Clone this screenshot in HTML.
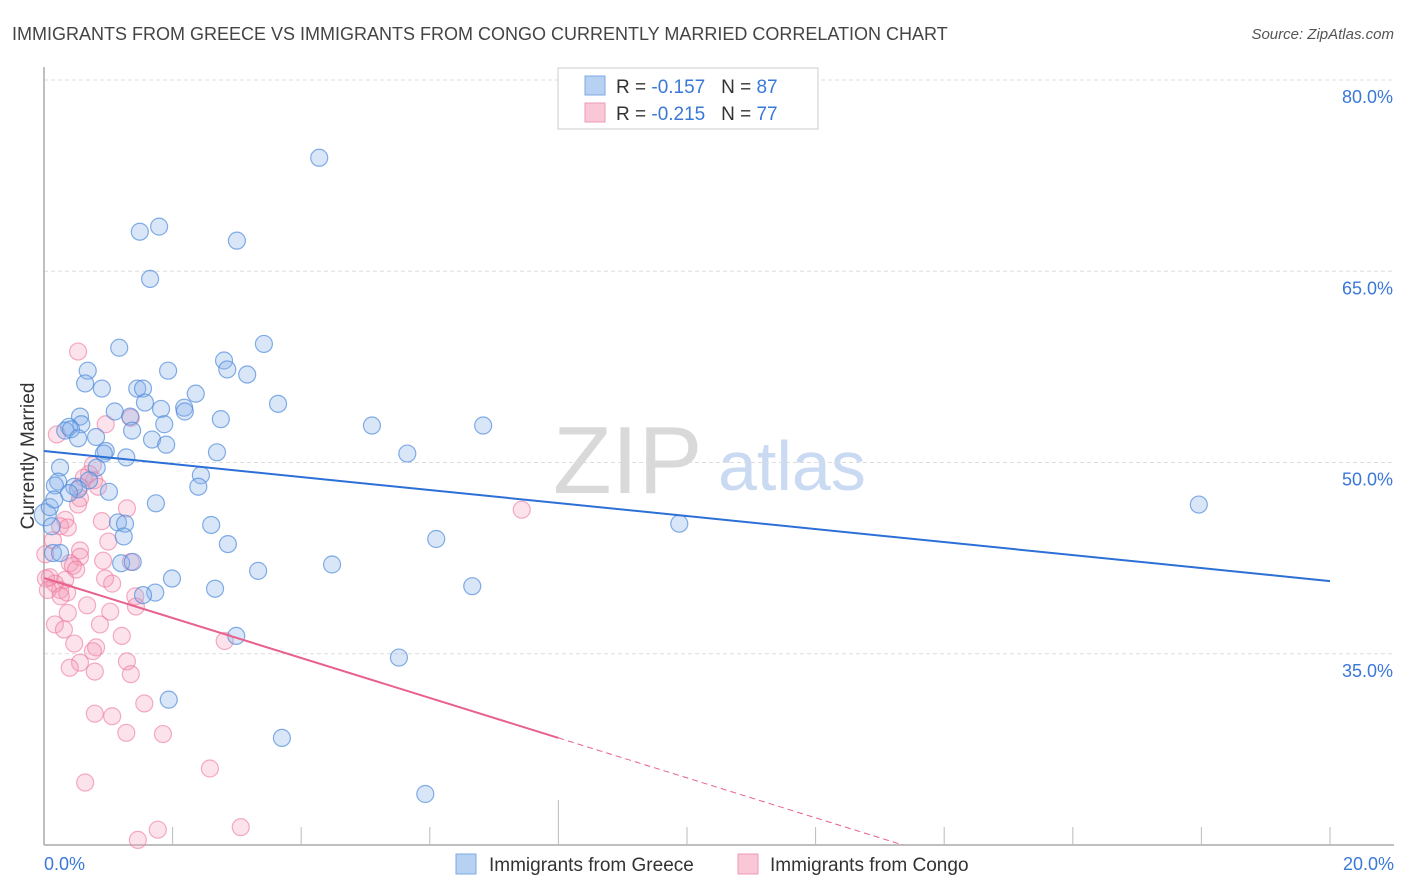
<!DOCTYPE html>
<html><head><meta charset="utf-8">
<style>
body{margin:0;background:#fff;font-family:"Liberation Sans",sans-serif;}
#wrap{position:relative;width:1406px;height:892px;overflow:hidden;}
svg text{font-family:"Liberation Sans",sans-serif;}
</style></head>
<body>
<div id="wrap">
<svg id="chart" width="1406" height="892">
  <text x="12" y="40" font-size="18" fill="#444">IMMIGRANTS FROM GREECE VS IMMIGRANTS FROM CONGO CURRENTLY MARRIED CORRELATION CHART</text>
  <text x="1394" y="39" font-size="15" fill="#555" font-style="italic" text-anchor="end">Source: ZipAtlas.com</text>
  <text x="0" y="0" font-size="19" fill="#333" transform="translate(34,456) rotate(-90)" text-anchor="middle">Currently Married</text>
  <g>
    <text x="553" y="493" font-size="96" fill="#d9d9d9" font-family="Liberation Serif">ZIP</text>
    <text x="718" y="490" font-size="70" fill="#c9daf2">atlas</text>
  </g>
  <g id="grid"></g>
  <g id="axes"></g>
  <g id="pts"></g>
  <g id="lines"></g>
  <g>
    <rect x="558" y="68" width="260" height="61" fill="#fff" stroke="#ccc"/>
    <rect x="585" y="76" width="20" height="19" fill="#b7d1f3" stroke="#7ea9e4"/>
    <rect x="585" y="103" width="20" height="19" fill="#f9c7d6" stroke="#ef9ab5"/>
    <text x="616" y="93" font-size="19" fill="#333">R = <tspan fill="#3a78d8">-0.157</tspan>&#160;&#160;&#160;N = <tspan fill="#3a78d8">87</tspan></text>
    <text x="616" y="120" font-size="19" fill="#333">R = <tspan fill="#3a78d8">-0.215</tspan>&#160;&#160;&#160;N = <tspan fill="#3a78d8">77</tspan></text>
  </g>
  <g>
    <rect x="456" y="854" width="20" height="20" fill="#b7d1f3" stroke="#7ea9e4"/>
    <text x="489" y="871" font-size="19" fill="#333">Immigrants from Greece</text>
    <rect x="738" y="854" width="20" height="20" fill="#f9c7d6" stroke="#ef9ab5"/>
    <text x="770" y="871" font-size="19" fill="#333">Immigrants from Congo</text>
  </g>
</svg>
</div>
<script>
const greeceX=[4.28,1.49,1.79,3.00,1.65,1.17,3.42,2.80,0.68,1.93,2.85,3.16,0.64,0.90,1.45,1.54,2.36,3.64,1.57,1.10,1.82,2.18,2.19,1.34,0.56,0.58,2.75,1.87,0.39,0.33,0.42,1.37,5.10,6.83,0.53,0.81,1.68,1.90,0.96,0.93,2.69,5.65,1.28,0.82,0.25,2.44,0.22,0.70,0.47,0.53,0.17,1.01,2.40,0.39,1.74,17.96,9.88,1.15,1.26,2.60,0.02,0.12,1.24,2.86,6.10,0.14,0.25,1.20,1.38,3.33,4.48,1.99,1.73,1.54,2.66,6.66,2.99,5.52,1.94,3.70,5.93,0.09,0.16];
const greeceY=[73.9,68.1,68.5,67.4,64.4,59.0,59.3,58.0,57.2,57.2,57.3,56.9,56.2,55.8,55.8,55.8,55.4,54.6,54.7,54.0,54.2,54.3,54.0,53.6,53.6,53.0,53.4,53.0,52.8,52.5,52.6,52.5,52.9,52.9,51.9,52.0,51.8,51.4,50.9,50.7,50.8,50.7,50.4,49.6,49.6,49.0,48.5,48.6,48.1,47.9,48.2,47.7,48.1,47.6,46.8,46.7,45.2,45.3,45.2,45.1,45.9,45.0,44.2,43.6,44.0,42.9,42.9,42.1,42.2,41.5,42.0,40.9,39.8,39.6,40.1,40.3,36.4,34.7,31.4,28.4,24.0,46.5,47.1];
const congoX=[0.53,1.35,0.96,0.20,0.76,0.70,0.78,0.62,0.56,0.84,0.56,0.53,0.33,0.25,1.29,7.43,0.90,0.37,1.00,0.14,0.56,0.56,0.02,0.40,0.45,0.92,0.50,1.35,0.09,0.33,0.17,0.95,1.06,0.03,0.25,0.06,0.36,0.26,1.42,0.67,1.43,1.03,0.37,0.17,0.31,0.87,1.21,0.81,2.81,0.47,0.76,1.29,0.56,0.40,0.79,1.35,1.56,0.79,1.06,1.85,1.28,2.58,0.64,3.06,1.77,1.46];
const congoY=[58.7,53.5,53.0,52.2,49.8,49.1,48.6,48.8,48.1,48.1,47.2,46.7,45.5,45.0,46.4,46.3,45.4,44.9,43.8,43.9,43.1,42.6,42.8,42.1,41.9,42.3,41.6,42.2,41.0,40.8,40.5,40.9,40.5,40.9,40.0,40.0,39.8,39.5,39.5,38.8,38.7,38.3,38.2,37.3,36.9,37.3,36.4,35.5,36.0,35.8,35.2,34.4,34.3,33.9,33.6,33.4,31.1,30.3,30.1,28.7,28.8,26.0,24.9,21.4,21.2,20.4];
const greeceTrend=[50.9,40.7];
const congoTrend=[40.94,28.4];
const yTicks=[80,65,50,35];
const xTickLabels=["0.0%","20.0%"];

const NS="http://www.w3.org/2000/svg";
const X0=44,X1=1330,Y80=80,PX_PER=12.75;
const xs=v=>X0+(v/20)*(X1-X0);
const ys=v=>Y80+(80-v)*PX_PER;
function mk(tag,attrs,parent){const e=document.createElementNS(NS,tag);for(const k in attrs)e.setAttribute(k,attrs[k]);parent.appendChild(e);return e;}
const grid=document.getElementById('grid'),axes=document.getElementById('axes'),pts=document.getElementById('pts'),lines=document.getElementById('lines');

yTicks.forEach(t=>{
  const l=mk('line',{x1:X0,x2:1394,y1:ys(t),y2:ys(t),stroke:'#ddd','stroke-dasharray':'4 3'},grid);
  
  
  const tx=mk('text',{x:1393,y:ys(t)+23,'font-size':18,fill:'#3a78d8','text-anchor':'end'},axes);
  tx.textContent=t.toFixed(1)+'%';
  
  
});
const yax=mk('line',{x1:X0,x2:X0,y1:67,y2:845,stroke:'#aaa','stroke-width':1.5},axes);


const xax=mk('line',{x1:X0,x2:1394,y1:845,y2:845,stroke:'#aaa','stroke-width':1.5},axes);


for(let i=1;i<=10;i++){
  const tk=mk('line',{x1:xs(i*2),x2:xs(i*2),y1:(i===4?800:827),y2:845,stroke:'#bbb'},axes);
  
  
}
const xl0=mk('text',{x:44,y:870,'font-size':18,fill:'#3a78d8'},axes);
xl0.textContent=xTickLabels[0];


const xl1=mk('text',{x:1394,y:870,'font-size':18,fill:'#3a78d8','text-anchor':'end'},axes);
xl1.textContent=xTickLabels[1];



congoX.forEach((v,i)=>{
  const c=mk('circle',{cx:xs(v),cy:ys(congoY[i]),r:8.5,fill:'rgba(244,150,180,0.28)',stroke:'rgba(236,120,160,0.6)','stroke-width':1.2},pts);
  
  
});
greeceX.forEach((v,i)=>{
  const c=mk('circle',{cx:xs(v),cy:ys(greeceY[i]),r:(v<0.05?11:8.5),fill:'rgba(140,180,235,0.33)',stroke:'rgba(80,140,220,0.7)','stroke-width':1.2},pts);
  
  
});

const gl=mk('line',{x1:xs(0),y1:ys(greeceTrend[0]),x2:xs(20),y2:ys(greeceTrend[1]),stroke:'#2c6fd6','stroke-width':2},lines);


const slope=(congoTrend[1]-congoTrend[0])/8;
const cl=mk('line',{x1:xs(0),y1:ys(congoTrend[0]),x2:xs(8),y2:ys(congoTrend[1]),stroke:'#e8608c','stroke-width':2},lines);


const xEnd=(20-congoTrend[0])/slope;
const cd=mk('line',{x1:xs(8),y1:ys(congoTrend[1]),x2:xs(xEnd),y2:ys(20),stroke:'#e8608c','stroke-width':1,'stroke-dasharray':'6 4'},lines);


</script>
</body></html>
